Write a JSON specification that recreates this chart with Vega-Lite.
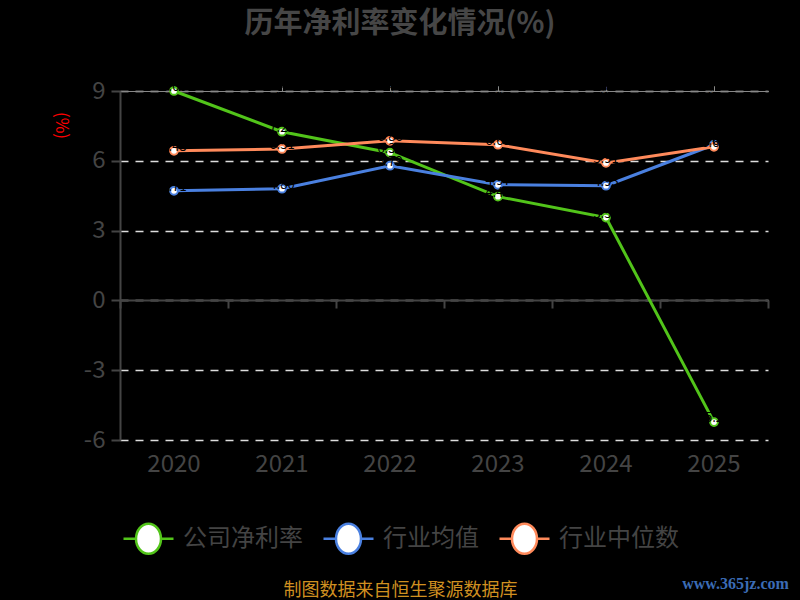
{
  "$schema": "https://vega.github.io/schema/vega-lite/v6.json",
  "width": 648,
  "height": 349,
  "autosize": "none",
  "padding": {"left": 120, "top": 91, "right": 32, "bottom": 160},
  "background": "#000000",
  "config": {"view": {"stroke": null}, "font": "Noto Sans CJK SC"},
  "title": {"text": "历年净利率变化情况(%)", "fontSize": 29, "fontWeight": "bold", "color": "#464646", "font": "Noto Sans CJK SC", "anchor": "middle", "dx": -44, "offset": 30},
  "data": {"values": [
    {"year": "2020", "series": "公司净利率", "value": 9.00},
    {"year": "2021", "series": "公司净利率", "value": 7.25},
    {"year": "2022", "series": "公司净利率", "value": 6.35},
    {"year": "2023", "series": "公司净利率", "value": 4.46},
    {"year": "2024", "series": "公司净利率", "value": 3.56},
    {"year": "2025", "series": "公司净利率", "value": -5.23},
    {"year": "2020", "series": "行业均值", "value": 4.71},
    {"year": "2021", "series": "行业均值", "value": 4.80},
    {"year": "2022", "series": "行业均值", "value": 5.79},
    {"year": "2023", "series": "行业均值", "value": 4.97},
    {"year": "2024", "series": "行业均值", "value": 4.93},
    {"year": "2025", "series": "行业均值", "value": 6.69},
    {"year": "2020", "series": "行业中位数", "value": 6.43},
    {"year": "2021", "series": "行业中位数", "value": 6.51},
    {"year": "2022", "series": "行业中位数", "value": 6.86},
    {"year": "2023", "series": "行业中位数", "value": 6.69},
    {"year": "2024", "series": "行业中位数", "value": 5.91},
    {"year": "2025", "series": "行业中位数", "value": 6.60}
  ]},
  "resolve": {"axis": {"x": "independent"}},
  "layer": [
    {
      "mark": {"type": "line", "strokeWidth": 3},
      "encoding": {
        "x": {"field": "year", "type": "ordinal", "bandPosition": 0.5, "scale": {"type": "band", "paddingInner": 0, "paddingOuter": 0},
          "axis": {"orient": "bottom", "domain": false, "ticks": false, "grid": false, "labelAngle": 0, "labelFontSize": 24, "labelColor": "#444444", "labelFont": "Noto Sans CJK SC", "labelPadding": 12,
            "title": "制图数据来自恒生聚源数据库", "titleColor": "#d09020", "titleFontSize": 18, "titleFont": "Noto Sans CJK SC", "titleFontWeight": "normal", "titleX": 280, "titleY": 150, "titleAlign": "center", "titleBaseline": "middle"}},
        "y": {"field": "value", "type": "quantitative", "scale": {"domain": [-6, 9], "nice": false, "zero": false},
          "axis": {"values": [-6, -3, 0, 3, 6, 9], "labelExpr": "'' + datum.value", "grid": true, "gridDash": [8, 7], "gridColor": "#dddddd", "gridWidth": 1.5, "domainColor": "#444444", "domainWidth": 2, "tickColor": "#444444", "tickSize": 9, "tickWidth": 2, "labelFontSize": 24, "labelColor": "#444444", "labelFont": "Noto Sans CJK SC", "labelPadding": 6,
            "title": "(%)", "titleColor": "#ff0000", "titleFontSize": 17, "titleFontWeight": "normal", "titleAngle": 90, "titleX": -60, "titleY": 34, "titleAlign": "center", "titleBaseline": "middle"}},
        "stroke": {"field": "series", "type": "nominal", "scale": {"domain": ["公司净利率", "行业均值", "行业中位数"], "range": ["#52c41a", "#4a80e0", "#ff8a5b"]},
          "legend": {"orient": "none", "legendX": 2, "legendY": 421, "direction": "horizontal", "title": null,
            "symbolType": "M-1,0L-0.5,0M0.5,0L1,0M-0.5,0A0.5,0.6,0,1,1,0.5,0A0.5,0.6,0,1,1,-0.5,0", "symbolSize": 2500, "symbolStrokeWidth": 2.5, "symbolFillColor": "#ffffff",
            "labelFontSize": 24, "labelColor": "#444444", "labelFont": "Noto Sans CJK SC", "labelOffset": 8, "columnPadding": 15, "labelLimit": 300,
            "encode": {"symbols": {"update": {"fill": {"value": "#ffffff"}, "opacity": {"value": 1}}}}}}
      }
    },
    {
      "mark": {"type": "point", "filled": true, "fill": "#ffffff", "size": 60, "strokeWidth": 2, "opacity": 1},
      "encoding": {
        "x": {"field": "year", "type": "ordinal", "bandPosition": 0.5},
        "y": {"field": "value", "type": "quantitative"},
        "stroke": {"field": "series", "type": "nominal"}
      }
    },
    {
      "mark": {"type": "text", "color": "#000000", "fontSize": 13, "dy": -4},
      "encoding": {
        "x": {"field": "year", "type": "ordinal", "bandPosition": 0.5},
        "y": {"field": "value", "type": "quantitative"},
        "text": {"field": "value", "type": "quantitative", "format": ".2f"}
      }
    },
    {
      "mark": {"type": "point", "opacity": 0},
      "encoding": {
        "x": {"field": "year", "type": "ordinal", "bandPosition": 0.5,
          "axis": {"orient": "bottom", "offset": -140, "labels": false, "domain": true, "domainColor": "#444444", "domainWidth": 2, "ticks": true, "tickColor": "#444444", "tickWidth": 2, "tickSize": 8, "tickBand": "extent", "grid": false,
            "title": "www.365jz.com", "titleColor": "#3b6cb5", "titleFontSize": 16, "titleFont": "Liberation Serif", "titleFontWeight": "bold", "titleX": 615, "titleY": 283, "titleAlign": "center", "titleBaseline": "middle"}}
      }
    }
  ]
}
